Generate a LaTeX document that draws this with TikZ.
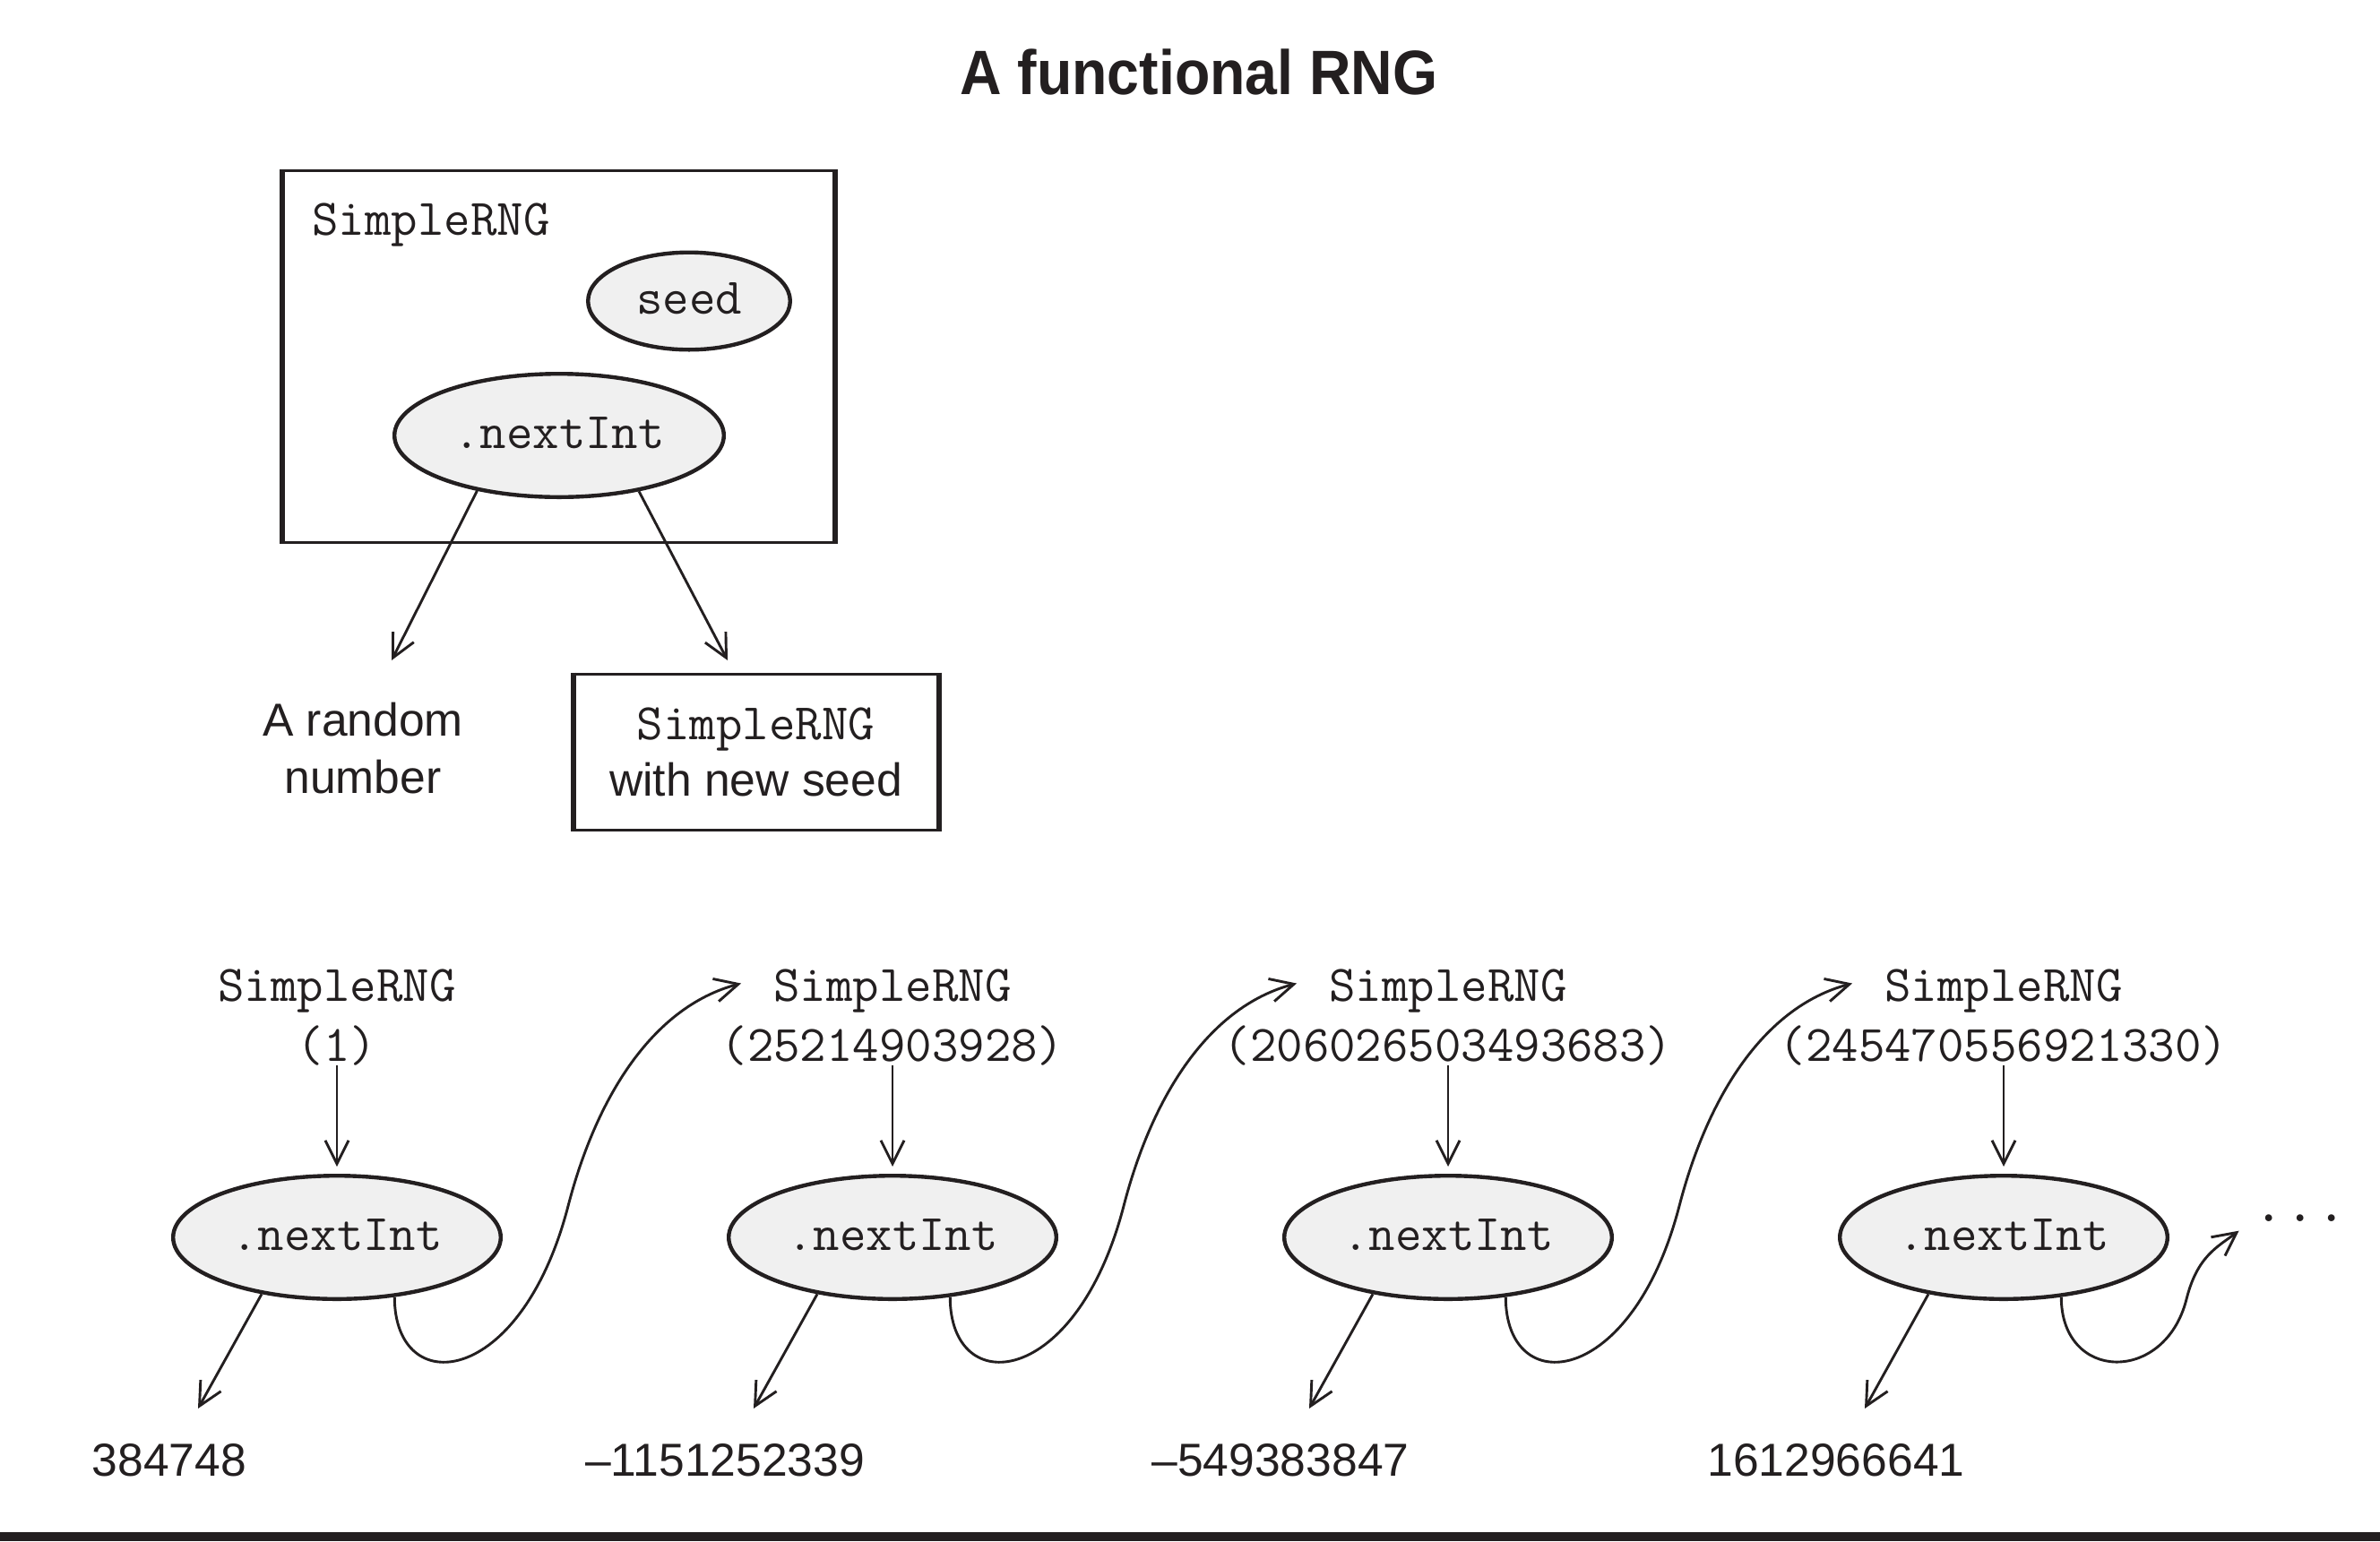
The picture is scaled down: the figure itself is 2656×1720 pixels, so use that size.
\documentclass[tikz,border=0pt]{standalone}
\usepackage{fontspec}
\setmainfont{Liberation Sans}
\newfontfamily\titlefont[FakeStretch=0.92]{Liberation Sans}
\usetikzlibrary{arrows.meta,shapes.geometric,calc}
\definecolor{ink}{HTML}{231F20}
\definecolor{ovalfill}{HTML}{F0F0F0}
\begin{document}
\begin{tikzpicture}[x=0.5pt,y=-0.5pt,
  every node/.style={text=ink},
  monotext/.style={font=\fontsize{28.6}{34}\selectfont\ttfamily, inner sep=0pt},
  sanstext/.style={font=\fontsize{25.8}{32}\selectfont, inner sep=0pt},
  oval/.style={ellipse, draw=ink, line width=2.2pt, fill=ovalfill, inner sep=0pt,
    font=\fontsize{28.6}{34}\selectfont\ttfamily, text height=14.5pt, text depth=0pt},
  conn/.style={draw=ink, line width=1.45pt, -{Straight Barb[length=13pt,width=13pt]}},
  boxframe/.style={draw=ink, line width=1.5pt, rectangle, inner sep=0pt},
  thickside/.style={draw=ink, line width=3pt},
]
\useasboundingbox (0,0) rectangle (2656,1720);

% title
\node[anchor=base, inner sep=0pt, font=\titlefont\bfseries\fontsize{35}{40}\selectfont] (title) at (1338,105) {A functional RNG};

% top: SimpleRNG box
\node[boxframe, minimum width=307pt, minimum height=207.25pt] (rngbox) at (623,397.75) {};
\draw[thickside] (rngbox.north west) -- (rngbox.south west);
\draw[thickside] (rngbox.north east) -- (rngbox.south east);
\node[monotext, anchor=base west] (boxlabel) at (348,262) {SimpleRNG};
\node[oval, minimum width=112.8pt, minimum height=54.3pt] (seed) at (769,336) {seed};
\node[oval, minimum width=183.8pt, minimum height=68.8pt] (nxt) at (624,486) {.nextInt};

\coordinate (rndend) at (437,737);
\coordinate (newend) at (812,737);
\draw[conn] (nxt.214) -- (rndend);
\draw[conn] (nxt.325) -- (newend);

\node[sanstext, align=center, anchor=north] (rnd) at (405,784) {A random\\number};

\node[boxframe, minimum width=202.5pt, minimum height=87.25pt, align=center,
  font=\fontsize{25.8}{31.5}\selectfont] (newrng) at (843.5,839.25)
  {{\ttfamily\fontsize{28.6}{31.5}\selectfont SimpleRNG}\\with new seed};
\draw[thickside] (newrng.north west) -- (newrng.south west);
\draw[thickside] (newrng.north east) -- (newrng.south east);

% bottom row
\foreach \i/\cx/\seedv/\num in {1/376/1/384748, 2/996/25214903928/–1151252339,
    3/1616/206026503493683/–549383847, 4/2236/245470556921330/1612966641}{
  \node[monotext, anchor=base] (rng\i) at (\cx,1117) {SimpleRNG};
  \node[monotext, anchor=base] (sd\i) at (\cx,1184) {(\seedv)};
  \node[oval, minimum width=182.8pt, minimum height=68.8pt] (e\i) at (\cx,1381) {.nextInt};
  \node[sanstext, anchor=base] (out\i) at (\cx-187,1647) {\num};
  \coordinate (oe\i) at (\cx-155,1572);
  \draw[conn, shorten >=4pt] (sd\i.south) -- (e\i.north);
  \draw[conn] (e\i.217) -- (oe\i);
}

\node[font=\fontsize{34.3}{40}\selectfont\ttfamily, inner sep=0pt, anchor=base] (dots) at (2567,1363) {...};

\foreach \i/\cx in {1/376, 2/996, 3/1616}{
  \pgfmathtruncatemacro\j{\i+1}
  \draw[conn] (e\i.314) .. controls +(0,115) and +(-53,204) .. (\cx+258,1346)
     .. controls +(30,-116) and +(-102,27) .. ([xshift=-18pt,yshift=4pt]rng\j.west);
}
\draw[conn] (e4.314) .. controls +(0,95) and +(-24,95) .. (2440,1450)
   .. controls +(12,-48) and +(-24,18) .. ([xshift=-7.5pt,yshift=-7.25pt]dots.west);

% bottom bar
\fill[ink] (0,1710) rectangle (2656,1720);
\end{tikzpicture}
\end{document}
